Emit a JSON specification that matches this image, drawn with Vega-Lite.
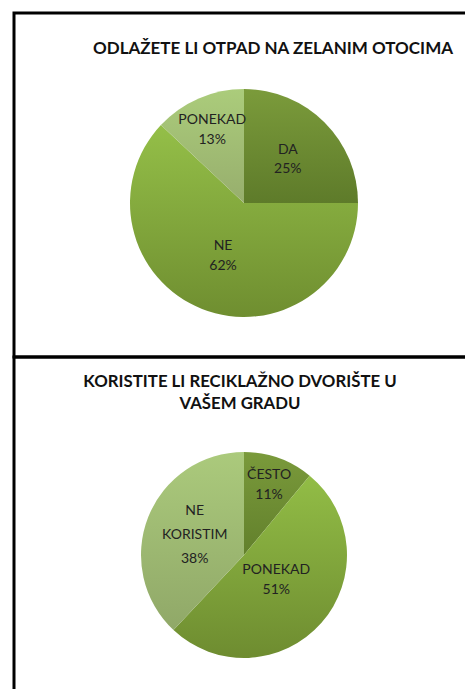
{
  "$schema": "https://vega.github.io/schema/vega-lite/v6.json",
  "bounds": "flush",
  "padding": {"left": 12, "top": 11, "right": 0, "bottom": 0},
  "background": "white",
  "spacing": 0,
  "config": {
    "view": {"stroke": "black", "strokeWidth": 3},
    "font": "Lato",
    "text": {"fontSize": 14, "lineBreak": "\n", "baseline": "middle", "color": "#222222"}
  },
  "vconcat": [
    {
      "width": 460,
      "height": 344,
      "data": {"values": [
        {"cat": "DA", "pct": 25, "ord": 1, "label": "DA\n25%"},
        {"cat": "NE", "pct": 62, "ord": 2, "label": "NE\n62%"},
        {"cat": "PONEKAD", "pct": 13, "ord": 3, "label": "PONEKAD\n13%"}
      ]},
      "encoding": {
        "y": {"datum": 190, "type": "quantitative", "scale": {"domain": [344, 0]}, "axis": null}
      },
      "layer": [
        {
          "data": {"values": [{"title": "ODLAŽETE LI OTPAD NA ZELANIM OTOCIMA"}]},
          "mark": {"type": "text", "fontSize": 17, "fontWeight": "bold", "color": "#111111", "baseline": "alphabetic", "align": "center"},
          "encoding": {
            "text": {"field": "title", "type": "nominal"},
            "x": {"datum": 259, "type": "quantitative", "scale": {"domain": [0, 460]}, "axis": null},
            "y": {"datum": 41, "type": "quantitative"}
          }
        },
        {
          "mark": {"type": "arc", "outerRadius": 114},
          "encoding": {
            "theta": {"field": "pct", "type": "quantitative", "stack": true},
            "order": {"field": "ord", "type": "quantitative"},
            "detail": {"field": "cat", "type": "nominal"},
            "color": {
              "condition": [
                {"test": "datum.cat === 'DA'", "value": {"gradient": "linear", "x1": 0, "y1": 0, "x2": 0, "y2": 1, "stops": [{"offset": 0, "color": "#7b9b3b"}, {"offset": 1, "color": "#5e7b2a"}]}},
                {"test": "datum.cat === 'PONEKAD'", "value": {"gradient": "linear", "x1": 0, "y1": 0, "x2": 0, "y2": 1, "stops": [{"offset": 0, "color": "#abcc7b"}, {"offset": 1, "color": "#97ae6d"}]}}
              ],
              "value": {"gradient": "linear", "x1": 0, "y1": 0, "x2": 0, "y2": 1, "stops": [{"offset": 0, "color": "#94bf48"}, {"offset": 1, "color": "#6f8e30"}]}
            }
          }
        },
        {
          "mark": {"type": "text", "radius": 62, "lineHeight": 19, "dy": -9},
          "encoding": {
            "theta": {"field": "pct", "type": "quantitative", "stack": true},
            "order": {"field": "ord", "type": "quantitative"},
            "detail": {"field": "cat", "type": "nominal"},
            "text": {"condition": {"test": "datum.cat === 'DA'", "field": "label"}, "value": ""}
          }
        },
        {
          "mark": {"type": "text", "radius": 57, "lineHeight": 20, "dy": -10},
          "encoding": {
            "theta": {"field": "pct", "type": "quantitative", "stack": true},
            "order": {"field": "ord", "type": "quantitative"},
            "detail": {"field": "cat", "type": "nominal"},
            "text": {"condition": {"test": "datum.cat === 'NE'", "field": "label"}, "value": ""}
          }
        },
        {
          "mark": {"type": "text", "radius": 80, "lineHeight": 20, "dy": -10},
          "encoding": {
            "theta": {"field": "pct", "type": "quantitative", "stack": true},
            "order": {"field": "ord", "type": "quantitative"},
            "detail": {"field": "cat", "type": "nominal"},
            "text": {"condition": {"test": "datum.cat === 'PONEKAD'", "field": "label"}, "value": ""}
          }
        }
      ]
    },
    {
      "width": 460,
      "height": 344,
      "data": {"values": [
        {"cat": "ČESTO", "pct": 11, "ord": 1, "label": "ČESTO\n11%"},
        {"cat": "PONEKAD", "pct": 51, "ord": 2, "label": "PONEKAD\n51%"},
        {"cat": "NE KORISTIM", "pct": 38, "ord": 3, "label": "NE\nKORISTIM\n38%"}
      ]},
      "encoding": {
        "y": {"datum": 198, "type": "quantitative", "scale": {"domain": [344, 0]}, "axis": null}
      },
      "layer": [
        {
          "data": {"values": [{"title": "KORISTITE LI RECIKLAŽNO DVORIŠTE U\nVAŠEM GRADU"}]},
          "mark": {"type": "text", "fontSize": 16.8, "fontWeight": "bold", "color": "#111111", "baseline": "alphabetic", "align": "center", "lineHeight": 22},
          "encoding": {
            "text": {"field": "title", "type": "nominal"},
            "x": {"datum": 226, "type": "quantitative", "scale": {"domain": [0, 460]}, "axis": null},
            "y": {"datum": 30, "type": "quantitative"}
          }
        },
        {
          "mark": {"type": "arc", "outerRadius": 103},
          "encoding": {
            "theta": {"field": "pct", "type": "quantitative", "stack": true},
            "order": {"field": "ord", "type": "quantitative"},
            "detail": {"field": "cat", "type": "nominal"},
            "color": {
              "condition": [
                {"test": "datum.cat === 'ČESTO'", "value": {"gradient": "linear", "x1": 0, "y1": 0, "x2": 0, "y2": 1, "stops": [{"offset": 0, "color": "#7a9a3b"}, {"offset": 1, "color": "#62802c"}]}},
                {"test": "datum.cat === 'NE KORISTIM'", "value": {"gradient": "linear", "x1": 0, "y1": 0, "x2": 0, "y2": 1, "stops": [{"offset": 0, "color": "#abca7c"}, {"offset": 1, "color": "#90a868"}]}}
              ],
              "value": {"gradient": "linear", "x1": 0, "y1": 0, "x2": 0, "y2": 1, "stops": [{"offset": 0, "color": "#92bd46"}, {"offset": 1, "color": "#6e8c30"}]}
            }
          }
        },
        {
          "mark": {"type": "text", "radius": 74, "lineHeight": 20, "dy": -10},
          "encoding": {
            "theta": {"field": "pct", "type": "quantitative", "stack": true},
            "order": {"field": "ord", "type": "quantitative"},
            "detail": {"field": "cat", "type": "nominal"},
            "text": {"condition": {"test": "datum.cat === 'ČESTO'", "field": "label"}, "value": ""}
          }
        },
        {
          "mark": {"type": "text", "radius": 43, "lineHeight": 20, "dy": -13},
          "encoding": {
            "theta": {"field": "pct", "type": "quantitative", "stack": true},
            "order": {"field": "ord", "type": "quantitative"},
            "detail": {"field": "cat", "type": "nominal"},
            "text": {"condition": {"test": "datum.cat === 'PONEKAD'", "field": "label"}, "value": ""}
          }
        },
        {
          "mark": {"type": "text", "radius": 53, "lineHeight": 24, "dy": -24},
          "encoding": {
            "theta": {"field": "pct", "type": "quantitative", "stack": true},
            "order": {"field": "ord", "type": "quantitative"},
            "detail": {"field": "cat", "type": "nominal"},
            "text": {"condition": {"test": "datum.cat === 'NE KORISTIM'", "field": "label"}, "value": ""}
          }
        }
      ]
    }
  ]
}
